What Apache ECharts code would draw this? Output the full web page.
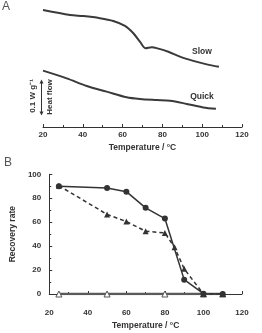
<!DOCTYPE html>
<html>
<head>
<meta charset="utf-8">
<script src="https://cdn.jsdelivr.net/npm/echarts@6/dist/echarts.min.js"></script>
<style>
  html, body { margin: 0; padding: 0; background: #fff; }
  #chart { width: 262px; height: 333px; }
</style>
</head>
<body>
<div id="chart"></div>
<script>
// Panel A: DSC traces (heat flow, arbitrary offset in mW/g)
const slowT = [20, 33.6, 40.3, 48.6, 55.3, 61.2, 65.4, 68.7, 71.6, 74.6, 78, 83, 88.8, 95.5, 102.3, 108.4];
const slowHF = [334, 320, 317, 311, 303, 289, 268, 244, 225, 228, 224, 215, 201, 189, 179, 172];
const quickT = [20, 31.9, 42, 52, 62, 68.7, 77.1, 83.8, 92.2, 100.5, 106.9];
const quickHF = [161, 139, 117, 101, 85, 80, 77, 75, 66, 56, 52];

// Panel B: recovery rate
const solidT = [25, 50, 60, 70, 80, 90, 100, 110];
const solidRate = [90, 88.5, 85.5, 72, 63, 12, 0.3, 0];
const dashT = [25, 50, 60, 70, 80, 85, 90, 100, 110];
const dashRate = [90.5, 66.5, 60.5, 52.5, 51, 39, 21, 0, 0];
const zeroT = [25, 50, 80, 100, 110];
const zeroRate = [0, 0, 0, 0, 0];

const xTicks = [20, 40, 60, 80, 100, 120];

const pairs = (xs, ys) => xs.map((x, i) => [x, ys[i]]);

const ink = '#333';
const font = '"Liberation Sans", Arial, sans-serif';

const tempAxis = (gridIndex, offset) => ({
  type: 'value',
  gridIndex,
  min: xTicks[0],
  max: xTicks[xTicks.length - 1],
  interval: xTicks[1] - xTicks[0],
  offset,
  axisLine: { lineStyle: { color: ink, width: 1 } },
  axisTick: { inside: true, length: 3, lineStyle: { color: ink } },
  minorTick: { show: true, splitNumber: 2, length: 2, lineStyle: { color: ink } },
  splitLine: { show: false },
  axisLabel: { color: ink, fontSize: 8, fontWeight: 'bold', fontFamily: font, margin: 4 },
  name: 'Temperature / °C',
  nameLocation: 'middle',
  nameGap: 16,
  nameTextStyle: { color: ink, fontSize: 8.5, fontWeight: 'bold', fontFamily: font }
});

const chart = echarts.init(document.getElementById('chart'));

chart.setOption({
  backgroundColor: '#fff',
  animation: false,
  grid: [
    { left: 43, width: 199, top: 4.5, height: 122.5 },
    { left: 43, width: 199, top: 174.3, height: 119.7 }
  ],
  xAxis: [tempAxis(0, 0), tempAxis(1, 11)],
  yAxis: [
    { type: 'value', gridIndex: 0, min: 0, max: 350, show: false },
    {
      type: 'value',
      gridIndex: 1,
      min: 0,
      max: 100,
      interval: 20,
      axisLine: { show: true, lineStyle: { color: ink, width: 1 } },
      axisTick: { show: true, inside: true, length: 3, lineStyle: { color: ink } },
      minorTick: { show: true, splitNumber: 2, length: 2, lineStyle: { color: ink } },
      splitLine: { show: false },
      axisLabel: { color: ink, fontSize: 8, fontWeight: 'bold', fontFamily: font, margin: 8 },
      name: 'Recovery rate',
      nameLocation: 'middle',
      nameGap: 20,
      nameTextStyle: { color: ink, fontSize: 8.5, fontWeight: 'bold', fontFamily: font }
    }
  ],
  series: [
    {
      type: 'line', xAxisIndex: 0, yAxisIndex: 0,
      data: pairs(slowT, slowHF), smooth: 0.3, showSymbol: false,
      lineStyle: { color: '#3a3a3a', width: 2 }
    },
    {
      type: 'line', xAxisIndex: 0, yAxisIndex: 0,
      data: pairs(quickT, quickHF), smooth: 0.3, showSymbol: false,
      lineStyle: { color: '#3a3a3a', width: 2 }
    },
    {
      type: 'line', xAxisIndex: 1, yAxisIndex: 1,
      data: pairs(zeroT, zeroRate),
      symbol: 'triangle', symbolSize: 6,
      itemStyle: { color: '#fff', borderColor: '#555', borderWidth: 1 },
      lineStyle: { color: '#5a5a5a', width: 2.5 }
    },
    {
      type: 'line', xAxisIndex: 1, yAxisIndex: 1,
      data: pairs(dashT, dashRate),
      symbol: 'triangle', symbolSize: 6,
      itemStyle: { color: ink },
      lineStyle: { color: ink, width: 1.5, type: [4, 3] }
    },
    {
      type: 'line', xAxisIndex: 1, yAxisIndex: 1,
      data: pairs(solidT, solidRate),
      symbol: 'circle', symbolSize: 6,
      itemStyle: { color: ink },
      lineStyle: { color: ink, width: 1.5 }
    }
  ],
  graphic: [
    { type: 'text', left: 2, top: 1, style: { text: 'A', fill: '#555', font: '12px ' + font } },
    { type: 'text', left: 4, top: 157, style: { text: 'B', fill: '#555', font: '12px ' + font } },
    { type: 'text', x: 202, y: 52, style: { text: 'Slow', fill: ink, font: 'bold 8.5px ' + font, align: 'center', verticalAlign: 'middle' } },
    { type: 'text', x: 202, y: 97, style: { text: 'Quick', fill: ink, font: 'bold 8.5px ' + font, align: 'center', verticalAlign: 'middle' } },
    // heat-flow scale bar
    { type: 'line', shape: { x1: 41.5, y1: 81, x2: 41.5, y2: 114 }, style: { stroke: ink, lineWidth: 1 } },
    { type: 'polygon', shape: { points: [[41.5, 79.5], [39.5, 83.5], [43.5, 83.5]] }, style: { fill: ink } },
    { type: 'polygon', shape: { points: [[41.5, 115.5], [39.5, 111.5], [43.5, 111.5]] }, style: { fill: ink } },
    { type: 'text', x: 33, y: 96, rotation: Math.PI / 2, style: { text: '0.1 W g⁻¹', fill: ink, font: 'bold 8px ' + font, align: 'center', verticalAlign: 'middle' } },
    { type: 'text', x: 49.5, y: 97, rotation: Math.PI / 2, style: { text: 'Heat flow', fill: ink, font: 'bold 8px ' + font, align: 'center', verticalAlign: 'middle' } }
  ]
});
</script>
</body>
</html>
